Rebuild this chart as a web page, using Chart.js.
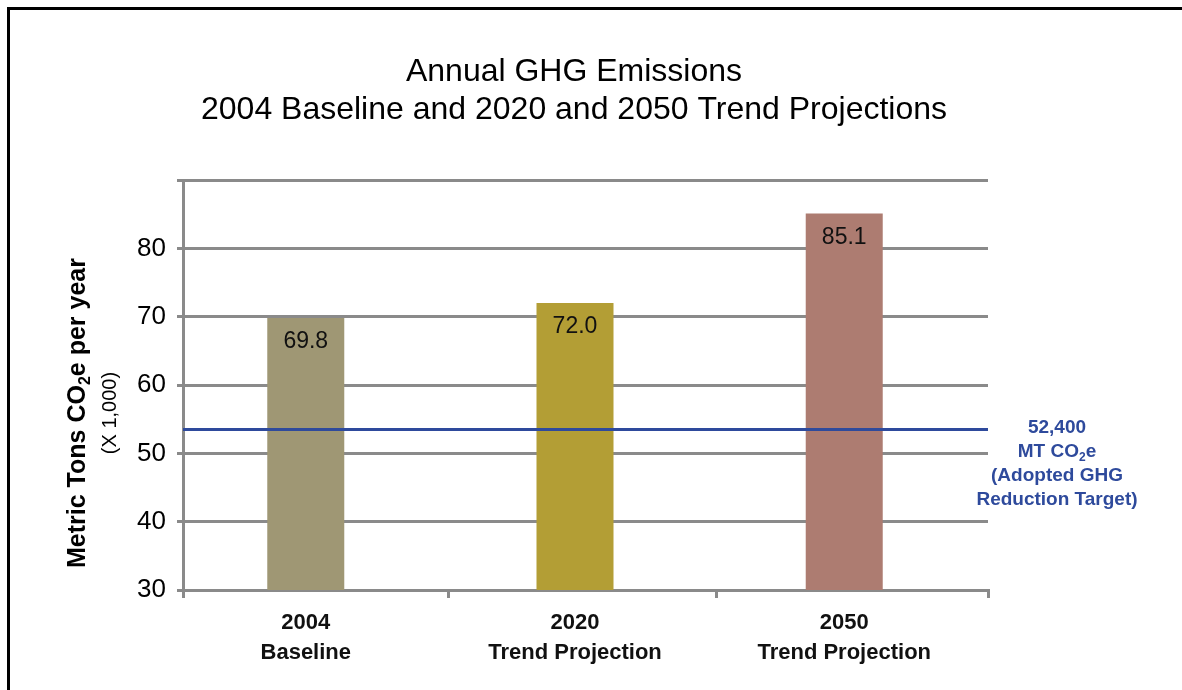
<!DOCTYPE html>
<html>
<head>
<meta charset="utf-8">
<script src="https://cdn.jsdelivr.net/npm/chart.js@4.4.1/dist/chart.umd.min.js"></script>
<style>
  html, body { margin: 0; padding: 0; background: #ffffff; overflow: hidden; }
  canvas { display: block; }
</style>
</head>
<body>
<canvas id="chart" width="1182" height="690"></canvas>
<script>
// ---------------- data ----------------
const titleLines = ['Annual GHG Emissions', '2004 Baseline and 2020 and 2050 Trend Projections'];
const categories = [['2004', 'Baseline'], ['2020', 'Trend Projection'], ['2050', 'Trend Projection']];
const emissions = [69.8, 72.0, 85.1];
const barColors = ['#9f9774', '#b39e35', '#ad7c71'];
const yTickValues = [30, 40, 50, 60, 70, 80, 90];
const yTickLabels = ['30', '40', '50', '60', '70', '80', ''];
const targetLevel = 53.5;            // level at which the target line is drawn in the picture
const targetNote = [
  [{ t: '52,400' }],
  [{ t: 'MT CO' }, { t: '2', sub: true }, { t: 'e' }],
  [{ t: '(Adopted GHG' }],
  [{ t: 'Reduction Target)' }]
];
const yTitleMain = [{ t: 'Metric Tons CO' }, { t: '2', sub: true }, { t: 'e per year' }];
const yTitleSub = [{ t: '(X 1,000)' }];
const categoryEdges = [-0.456, 0.53, 1.525, 2.534];

// ---------------- styles ----------------
const FONT = "'Liberation Sans', Arial, Helvetica, sans-serif";
const GRID = '#8a8a8a';
const TARGET_BLUE = '#2e4a9c';

function drawSegments(ctx, segs, x, y, size, weight, color) {
  const subSize = Math.round(size * 0.62);
  ctx.save();
  ctx.fillStyle = color;
  ctx.textBaseline = 'middle';
  ctx.textAlign = 'left';
  let total = 0;
  const widths = segs.map(s => {
    ctx.font = `${weight} ${s.sub ? subSize : size}px ${FONT}`;
    const w = ctx.measureText(s.t).width;
    total += w;
    return w;
  });
  let cx = x - total / 2;
  segs.forEach((s, i) => {
    ctx.font = `${weight} ${s.sub ? subSize : size}px ${FONT}`;
    ctx.fillText(s.t, cx, y + (s.sub ? size * 0.32 : 0));
    cx += widths[i];
  });
  ctx.restore();
}

const decorations = {
  id: 'decorations',
  beforeDraw(chart) {
    const ctx = chart.ctx;
    ctx.save();
    ctx.fillStyle = '#ffffff';
    ctx.fillRect(0, 0, chart.width, chart.height);
    ctx.fillStyle = '#000000';
    ctx.fillRect(7, 7, chart.width - 7, 3);
    ctx.fillRect(7, 7, 3, chart.height - 7);
    ctx.restore();
  },
  afterDatasetsDraw(chart) {
    const { ctx, chartArea } = chart;
    const yScale = chart.scales.y;
    const ty = yScale.getPixelForValue(targetLevel);
    ctx.save();
    // target line
    ctx.strokeStyle = TARGET_BLUE;
    ctx.lineWidth = 3;
    ctx.beginPath();
    ctx.moveTo(chartArea.left, ty);
    ctx.lineTo(chartArea.right, ty);
    ctx.stroke();
    // value labels inside bar tops
    ctx.fillStyle = '#111111';
    ctx.font = `23px ${FONT}`;
    ctx.textAlign = 'center';
    ctx.textBaseline = 'middle';
    chart.getDatasetMeta(0).data.forEach((bar, i) => {
      ctx.fillText(emissions[i].toFixed(1), bar.x, bar.y + 24);
    });
    ctx.restore();
    // target annotation
    targetNote.forEach((line, i) => {
      drawSegments(ctx, line, 1057, ty - 2 + i * 24, 19, 'bold', TARGET_BLUE);
    });
    // y axis title
    const midY = (chartArea.top + chartArea.bottom) / 2 + 28;
    ctx.save();
    ctx.translate(78, midY);
    ctx.rotate(-Math.PI / 2);
    drawSegments(ctx, yTitleMain, 0, 0, 25, 'bold', '#000000');
    ctx.restore();
    ctx.save();
    ctx.translate(110, midY);
    ctx.rotate(-Math.PI / 2);
    drawSegments(ctx, yTitleSub, 0, 0, 20, 'normal', '#000000');
    ctx.restore();
  }
};

const ctx = document.getElementById('chart').getContext('2d');
new Chart(ctx, {
  type: 'bar',
  data: {
    datasets: [{
      data: emissions.map((v, i) => ({ x: i, y: v })),
      backgroundColor: barColors,
      borderWidth: 0,
      categoryPercentage: 1.0,
      barPercentage: 0.286,
      xAxisID: 'x',
      yAxisID: 'y'
    }]
  },
  options: {
    responsive: false,
    animation: false,
    devicePixelRatio: 1,
    layout: { padding: { left: 0, top: 0, right: 34, bottom: 0 } },
    plugins: {
      legend: { display: false },
      tooltip: { enabled: false },
      title: {
        display: true,
        text: titleLines,
        color: '#000000',
        font: { family: FONT, size: 32, weight: 'normal', lineHeight: 38 / 32 },
        padding: { top: 53, bottom: 51 }
      }
    },
    scales: {
      y: {
        type: 'linear',
        position: 'left',
        min: 30,
        max: 90,
        afterBuildTicks: s => { s.ticks = yTickValues.map(v => ({ value: v })); },
        ticks: {
          callback: (v, i) => yTickLabels[i],
          color: '#000000',
          font: { family: FONT, size: 26, weight: 'normal' },
          padding: 11
        },
        grid: { color: GRID, lineWidth: 3, tickLength: 6, drawTicks: true },
        border: { display: true, color: GRID, width: 3 },
        afterFit: s => { s.width = 183; }
      },
      yR: {
        type: 'linear',
        position: 'right',
        display: true,
        ticks: { display: false },
        grid: { display: false, drawTicks: false },
        border: { display: false },
        afterFit: s => { s.width = 160; }
      },
      xEdges: {
        type: 'linear',
        position: 'bottom',
        weight: 0,
        offset: false,
        min: categoryEdges[0],
        max: categoryEdges[categoryEdges.length - 1],
        afterBuildTicks: s => { s.ticks = categoryEdges.map(v => ({ value: v })); },
        ticks: { display: false },
        grid: { offset: false, drawOnChartArea: false, drawTicks: true, tickLength: 8, color: GRID, lineWidth: 3 },
        border: { display: true, color: GRID, width: 3 },
        afterFit: s => { s.height = 8; }
      },
      x: {
        type: 'linear',
        position: 'bottom',
        weight: 1,
        offset: false,
        min: categoryEdges[0],
        max: categoryEdges[categoryEdges.length - 1],
        afterBuildTicks: s => { s.ticks = categories.map((c, i) => ({ value: i })); },
        ticks: {
          callback: v => categories[v],
          color: '#111111',
          font: { family: FONT, size: 22, weight: 'bold', lineHeight: 30 / 22 },
          padding: 10,
          autoSkip: false,
          maxRotation: 0,
          minRotation: 0
        },
        grid: { display: false, drawTicks: false, offset: false },
        border: { display: false },
        afterFit: s => { s.height = 92; }
      }
    }
  },
  plugins: [decorations]
});
</script>
</body>
</html>
